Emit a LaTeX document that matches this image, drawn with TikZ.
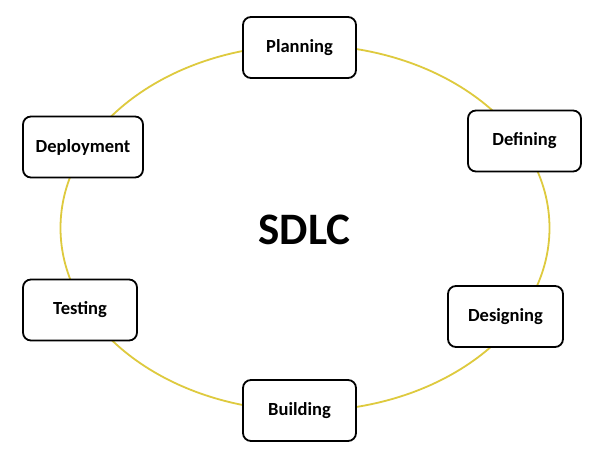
\documentclass[tikz,border=0pt]{standalone}
\usepackage{fontspec}
\setmainfont{Carlito}
\usetikzlibrary{shapes.geometric}
\definecolor{ring}{RGB}{222,202,62}
\begin{document}
\begin{tikzpicture}[x=1pt,y=-1pt,
  phase/.style={draw=black,line width=1.8pt,fill=white,rounded corners=8pt,
    minimum width=#1,minimum height=61pt,font=\fontsize{18.5}{22}\selectfont\bfseries,inner sep=0pt},
  phase/.default=113pt]
\useasboundingbox[fill=white] (0,0) rectangle (603,449);
\node[ellipse,draw=ring,line width=1.8pt,minimum width=489pt,minimum height=366pt,inner sep=0pt] (ring) at (305,228) {};
\node[font=\fontsize{45}{50}\selectfont\bfseries] (sdlc) at (304.5,229.5) {SDLC};
\node[phase] (planning) at (299.5,47.5) {Planning};
\node[phase] (defining) at (524.5,141) {Defining};
\node[phase=115pt] (designing) at (505.5,316.5) {Designing};
\node[phase] (building) at (299.5,410.5) {Building};
\node[phase=114pt] (testing) at (80,310) {Testing};
\node[phase=120pt] (deployment) at (83,147) {Deployment};
\end{tikzpicture}
\end{document}
